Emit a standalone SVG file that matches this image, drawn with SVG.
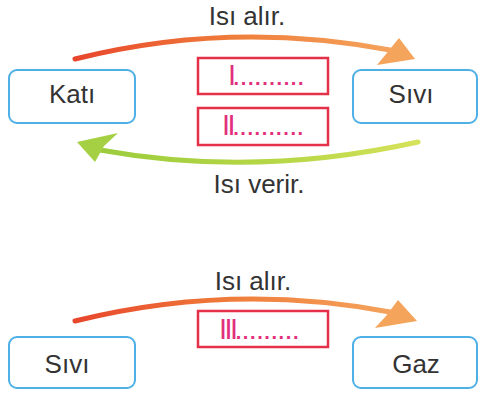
<svg xmlns="http://www.w3.org/2000/svg" width="479" height="394" viewBox="0 0 479 394">
<defs>
<linearGradient id="gOr" x1="0" y1="0" x2="1" y2="0">
<stop offset="0" stop-color="#e8462c"/>
<stop offset="0.5" stop-color="#ef7d3a"/>
<stop offset="1" stop-color="#f4a35c"/>
</linearGradient>
<linearGradient id="gGr" x1="0" y1="0" x2="1" y2="0">
<stop offset="0" stop-color="#9ccc3c"/>
<stop offset="0.6" stop-color="#b8d848"/>
<stop offset="1" stop-color="#d6e25a"/>
</linearGradient>
<style>
.node rect{fill:#fff;stroke:#4fb0e6;stroke-width:2}
.node text{font-family:"Liberation Sans",Arial,sans-serif;font-size:26px;fill:#333;text-anchor:middle}
.lbl{font-family:"Liberation Sans",Arial,sans-serif;font-size:26px;fill:#333;text-anchor:middle}
.ans rect{fill:#fff;stroke:#e5304a;stroke-width:2.5}
.ans text{font-family:"Liberation Sans",Arial,sans-serif;font-size:20px;font-weight:bold;fill:#e2307c;letter-spacing:1.6px}
.ans .rn{font-size:29px;font-weight:normal;letter-spacing:-2.5px}
.shaftO{fill:none;stroke:url(#gOr);stroke-width:5;stroke-linecap:round}
.shaftG{fill:none;stroke:url(#gGr);stroke-width:5;stroke-linecap:round}
.headO{fill:#f5a45c}
.headG{fill:#a6d043}
</style>
</defs>
<g id="connectors">
<path class="shaftO" d="M75,59 Q230,20 390,50"/>
<polygon class="headO" points="399,38 415,59 377,65 386,54"/>
<path class="shaftG" d="M418,142 Q255,178 100,150"/>
<polygon class="headG" points="118,133 104,146 95,162 77,142"/>
<path class="shaftO" d="M75,321 Q232,282 390,312"/>
<polygon class="headO" points="398,300 417,321 375,328 386,316"/>
</g>
<g id="label-top"><text class="lbl" x="247" y="25">Isı alır.</text></g>
<g id="label-verir"><text class="lbl" x="259" y="193">Isı verir.</text></g>
<g id="label-bottom"><text class="lbl" x="253" y="290">Isı alır.</text></g>
<g id="kati" class="node"><rect x="9" y="70" width="126" height="53" rx="8"/><text x="72" y="103">Katı</text></g>
<g id="sivi1" class="node"><rect x="353" y="70" width="124" height="53" rx="8"/><text x="411" y="103">Sıvı</text></g>
<g id="box1" class="ans"><rect x="198" y="58" width="130" height="36"/><text x="228" y="85"><tspan class="rn">I</tspan>..........</text></g>
<g id="box2" class="ans"><rect x="198" y="108" width="130" height="37"/><text x="222" y="135"><tspan class="rn">II</tspan>..........</text></g>
<g id="sivi2" class="node"><rect x="9" y="337" width="126" height="51" rx="8"/><text x="67" y="373">Sıvı</text></g>
<g id="gaz" class="node"><rect x="353" y="337" width="124" height="51" rx="8"/><text x="416" y="373">Gaz</text></g>
<g id="box3" class="ans"><rect x="198" y="311" width="130" height="36"/><text x="219" y="339"><tspan class="rn">III</tspan>.........</text></g>
</svg>
